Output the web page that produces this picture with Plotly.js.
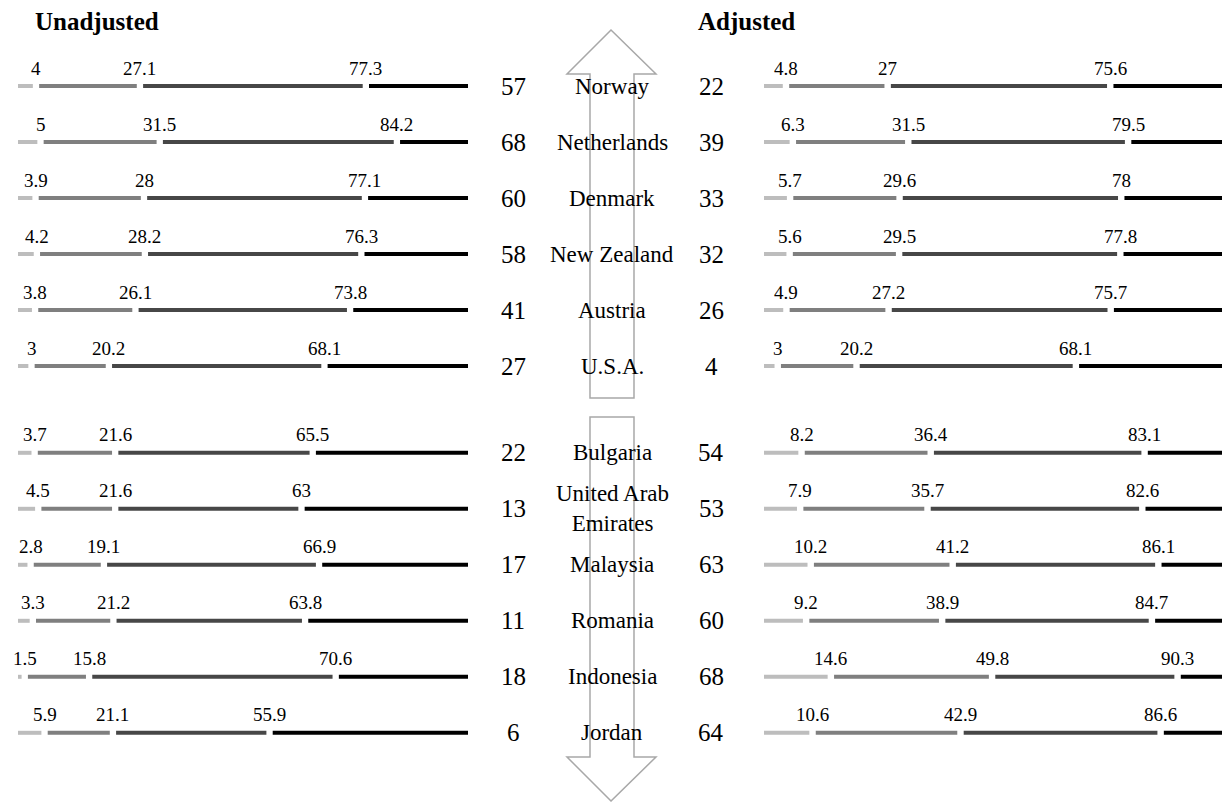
<!DOCTYPE html>
<html>
<head>
<meta charset="utf-8">
<script src="https://cdn.plot.ly/plotly-3.0.1.min.js"></script>
<style>html,body{margin:0;padding:0;background:#fff;}#chart{width:1225px;height:802px;}</style>
</head>
<body>
<div id="chart"></div>
<script>
// ---- data ----
const countries = ["Norway","Netherlands","Denmark","New Zealand","Austria","U.S.A.",
                   "Bulgaria","United Arab<br>Emirates","Malaysia","Romania","Indonesia","Jordan"];
const unadjustedRank = [57,68,60,58,41,27,22,13,17,11,18,6];
const adjustedRank   = [22,39,33,32,26,4,54,53,63,60,68,64];
const unadjustedP1 = [4,5,3.9,4.2,3.8,3,3.7,4.5,2.8,3.3,1.5,5.9];
const unadjustedP2 = [27.1,31.5,28,28.2,26.1,20.2,21.6,21.6,19.1,21.2,15.8,21.1];
const unadjustedP3 = [77.3,84.2,77.1,76.3,73.8,68.1,65.5,63,66.9,63.8,70.6,55.9];
const adjustedP1 = [4.8,6.3,5.7,5.6,4.9,3,8.2,7.9,10.2,9.2,14.6,10.6];
const adjustedP2 = [27,31.5,29.6,29.5,27.2,20.2,36.4,35.7,41.2,38.9,49.8,42.9];
const adjustedP3 = [75.6,79.5,78,77.8,75.7,68.1,83.1,82.6,86.1,84.7,90.3,86.6];
const total = 100;
const panelTitles = ["Unadjusted","Adjusted"];

// ---- layout helpers ----
const W = 1225, H = 802;
const segColors = ["#bdbdbd","#7f7f7f","#474747","#000000"];
const rowY = countries.map((c,i) => i + (i >= 6 ? 0.55 : 0));
const gap = 0.7;
const FONT = "Liberation Serif, Times New Roman, serif";

function panelTraces(p1,p2,p3,xa){
  const traces = [];
  for (let s = 0; s < 4; s++){
    const xs = [], ys = [];
    for (let i = 0; i < countries.length; i++){
      const cuts = [0, p1[i], p2[i], p3[i], total];
      const a = cuts[s] + (s > 0 ? gap : 0);
      const b = cuts[s+1] - (s < 3 ? gap : 0);
      xs.push(a, b, null); ys.push(rowY[i], rowY[i], null);
    }
    traces.push({type:"scatter", mode:"lines", x:xs, y:ys, xaxis:xa, yaxis:"y",
      line:{color:segColors[s], width:4}, hoverinfo:"skip", showlegend:false});
  }
  return traces;
}

const data = [].concat(
  panelTraces(unadjustedP1, unadjustedP2, unadjustedP3, "x"),
  panelTraces(adjustedP1, adjustedP2, adjustedP3, "x2")
);

const annotations = [];
function addLabels(arrs, xa){
  arrs.forEach(arr => arr.forEach((v,i) => {
    annotations.push({x:v, y:rowY[i], xref:xa, yref:"y", text:String(v), showarrow:false,
      xanchor:"center", yanchor:"middle", yshift:18, font:{family:FONT, size:19, color:"#000"}});
  }));
}
addLabels([unadjustedP1, unadjustedP2, unadjustedP3], "x");
addLabels([adjustedP1, adjustedP2, adjustedP3], "x2");

countries.forEach((c,i) => {
  annotations.push({x:513/W, y:rowY[i], xref:"paper", yref:"y", text:String(unadjustedRank[i]),
    showarrow:false, xanchor:"center", yanchor:"middle", font:{family:FONT, size:25, color:"#000"}});
  annotations.push({x:612/W, y:rowY[i], xref:"paper", yref:"y", text:c, yshift: 0,
    showarrow:false, xanchor:"center", yanchor:"middle", font:{family:FONT, size:23, color:"#000"}});
  annotations.push({x:711/W, y:rowY[i], xref:"paper", yref:"y", text:String(adjustedRank[i]),
    showarrow:false, xanchor:"center", yanchor:"middle", font:{family:FONT, size:25, color:"#000"}});
});

annotations.push({x:33/W, y:1-22/H, xref:"paper", yref:"paper", text:"<b>"+panelTitles[0]+"</b>",
  showarrow:false, xanchor:"left", yanchor:"middle", font:{family:FONT, size:25, color:"#000"}});
annotations.push({x:696/W, y:1-22/H, xref:"paper", yref:"paper", text:"<b>"+panelTitles[1]+"</b>",
  showarrow:false, xanchor:"left", yanchor:"middle", font:{family:FONT, size:25, color:"#000"}});

function pathFrom(pts){
  return "M " + pts.map(p => (p[0]/W).toFixed(5) + "," + (1 - p[1]/H).toFixed(5)).join(" L ") + " Z";
}
const upArrow = [[611,30],[656,74],[634,74],[634,398],[590,398],[590,74],[567,74]];
const downArrow = [[590,417],[634,417],[634,757],[656,757],[611,801],[567,757],[590,757]];
const shapes = [upArrow, downArrow].map(a => ({type:"path", xref:"paper", yref:"paper",
  path:pathFrom(a), line:{color:"#a8a8a8", width:1.5}, fillcolor:"#ffffff", layer:"below"}));

const pxPerRow = 56, row0px = 86;
const layout = {
  width:W, height:H, margin:{l:0,r:0,t:0,b:0},
  paper_bgcolor:"#fff", plot_bgcolor:"rgba(0,0,0,0)",
  xaxis:{domain:[18/W, 468/W], range:[0,total], visible:false, fixedrange:true},
  xaxis2:{domain:[764/W, 1222/W], range:[0,total], visible:false, fixedrange:true},
  yaxis:{domain:[0,1], range:[(H-row0px)/pxPerRow, -row0px/pxPerRow], visible:false, fixedrange:true},
  annotations:annotations, shapes:shapes, showlegend:false
};
Plotly.newPlot("chart", data, layout, {staticPlot:true});
</script>
</body>
</html>
